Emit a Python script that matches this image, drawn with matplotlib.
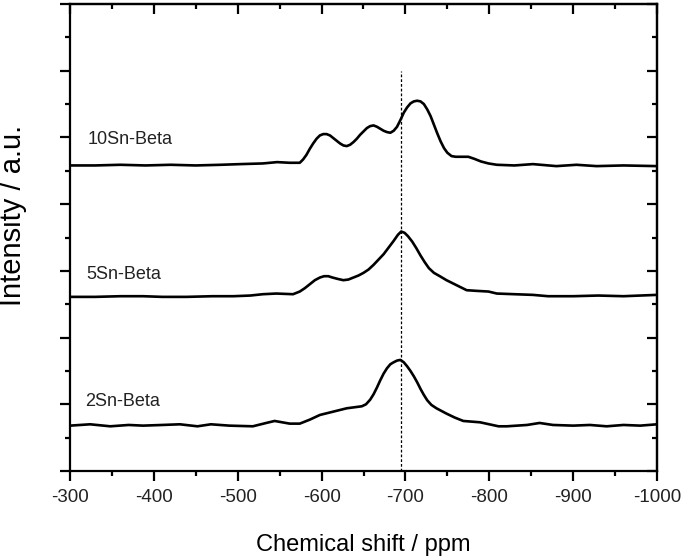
import matplotlib
matplotlib.use("Agg")
import matplotlib.pyplot as plt
from matplotlib.ticker import MultipleLocator

plt.rcParams["font.family"] = ["Liberation Sans", "DejaVu Sans"]
plt.rcParams["axes.unicode_minus"] = False

# chemical shift (ppm) / intensity (a.u., offset per sample)
ppm_10 = [-300, -330, -360, -390, -420, -450, -480, -503, -530, -547, -562,
          -574, -578, -582, -586, -590, -594, -598, -602, -606, -610, -614,
          -618, -622, -626, -630, -634, -638, -642, -646, -650, -654, -658,
          -662, -666, -670, -674, -678, -682, -686, -690, -694, -698, -702,
          -706, -710, -714, -718, -722, -726, -730, -734, -738, -742, -746,
          -750, -755, -760, -768, -775, -782, -790, -799,
          -809, -830, -852, -880, -904, -928, -960, -1000]
int_10 = [4.58, 4.58, 4.59, 4.58, 4.59, 4.58, 4.59, 4.60, 4.61, 4.63, 4.62,
          4.62, 4.67, 4.74, 4.83, 4.91, 4.98, 5.03, 5.05, 5.05, 5.03, 4.99,
          4.95, 4.91, 4.88, 4.87, 4.89, 4.93, 4.98, 5.04, 5.09, 5.14, 5.17,
          5.18, 5.16, 5.13, 5.10, 5.08, 5.07, 5.10, 5.16, 5.26, 5.37, 5.45,
          5.51, 5.54, 5.55, 5.54, 5.50, 5.42, 5.32, 5.19, 5.06, 4.94, 4.84,
          4.77, 4.72, 4.71, 4.71, 4.71, 4.68, 4.64, 4.61,
          4.59, 4.58, 4.60, 4.57, 4.59, 4.57, 4.58, 4.57]

ppm_5 = [-300, -330, -360, -387, -410, -439, -470, -495, -515, -530, -546,
         -566, -574, -580, -586, -592, -598, -603, -608, -613, -619, -626,
         -632, -638, -644, -650, -656, -662, -668, -674, -680, -686, -691,
         -695, -699, -703, -708, -713, -718, -723, -728, -734, -741, -749,
         -757, -765, -773, -785, -799, -809, -830, -852, -870, -900, -930,
         -960, -1000]
int_5 = [2.61, 2.61, 2.62, 2.62, 2.61, 2.61, 2.62, 2.62, 2.63, 2.65, 2.66,
         2.65, 2.69, 2.74, 2.80, 2.86, 2.90, 2.92, 2.92, 2.90, 2.88, 2.86,
         2.87, 2.90, 2.93, 2.97, 3.02, 3.09, 3.17, 3.25, 3.35, 3.45, 3.54,
         3.59, 3.57, 3.52, 3.44, 3.34, 3.23, 3.13, 3.04, 2.97, 2.92, 2.86,
         2.81, 2.76, 2.71, 2.70, 2.69, 2.66, 2.65, 2.64, 2.62, 2.62, 2.63,
         2.62, 2.64]

ppm_2 = [-300, -324, -348, -370, -387, -410, -431, -452, -468, -490, -518,
         -534, -544, -562, -574, -586, -598, -614, -630, -648, -653, -658,
         -662, -666, -670, -674, -678, -682, -686, -690, -694, -698, -702,
         -706, -710, -714, -718, -722, -726, -731, -737, -743, -749, -759,
         -769, -789, -811, -821, -845, -860, -876, -900, -920, -940, -960,
         -980, -1000]
int_2 = [0.68, 0.70, 0.67, 0.69, 0.68, 0.69, 0.70, 0.67, 0.70, 0.68, 0.67,
         0.72, 0.75, 0.71, 0.71, 0.77, 0.84, 0.89, 0.94, 0.97, 1.00, 1.07,
         1.15, 1.25, 1.36, 1.46, 1.54, 1.60, 1.63, 1.655, 1.665, 1.63, 1.57,
         1.50, 1.42, 1.33, 1.23, 1.14, 1.06, 0.99, 0.94, 0.90, 0.86, 0.80,
         0.75, 0.73, 0.67, 0.67, 0.69, 0.72, 0.69, 0.68, 0.69, 0.67, 0.69,
         0.68, 0.70]

names = ["10Sn-Beta", "5Sn-Beta", "2Sn-Beta"]
name_pos = [(-321, 4.97), (-320, 2.94), (-318, 1.04)]
ref_shift = -695

fig = plt.figure(figsize=(6.85, 5.56), dpi=100)
ax = fig.add_axes([70 / 685, 1 - 471 / 556, 587 / 685, 467 / 556])

for x, y in [(ppm_10, int_10), (ppm_5, int_5), (ppm_2, int_2)]:
    ax.plot(x, y, color="black", lw=1.9, solid_joinstyle="round")

ax.plot([ref_shift, ref_shift], [0, 6.0], color="black", lw=0.9,
        dashes=(2.2, 1.6))

for name, (x, y) in zip(names, name_pos):
    ax.text(x, y, name, fontsize=13, ha="left", va="center", color="#222222")

ax.set_xlim(-300, -1000)
ax.set_ylim(0, 7)
ax.xaxis.set_major_locator(MultipleLocator(100))
ax.xaxis.set_minor_locator(MultipleLocator(50))
ax.yaxis.set_major_locator(MultipleLocator(1))
ax.yaxis.set_minor_locator(MultipleLocator(0.5))
ax.set_yticklabels([])
ax.set_yticklabels([], minor=True)

for side in ax.spines.values():
    side.set_linewidth(1.6)

ax.tick_params(which="both", direction="out", top=False, right=False,
               width=1.6, labelsize=13.5, labelcolor="#222222", pad=6)
ax.tick_params(which="major", length=7)
ax.tick_params(which="minor", length=3.5)

# inward mirrored ticks on top and right
for axis_obj, pos in [(ax.secondary_xaxis("top"), "x"), (ax.secondary_yaxis("right"), "y")]:
    axis_obj.spines[:].set_linewidth(1.6)
    if pos == "x":
        axis_obj.xaxis.set_major_locator(MultipleLocator(100))
        axis_obj.xaxis.set_minor_locator(MultipleLocator(50))
        axis_obj.set_xticklabels([])
    else:
        axis_obj.yaxis.set_major_locator(MultipleLocator(1))
        axis_obj.yaxis.set_minor_locator(MultipleLocator(0.5))
        axis_obj.set_yticklabels([])
    axis_obj.tick_params(which="both", direction="in", width=1.6)
    axis_obj.tick_params(which="major", length=7)
    axis_obj.tick_params(which="minor", length=3.5)

ax.set_xlabel("Chemical shift / ppm", fontsize=17, labelpad=20)
fig.text(13 / 685, 1 - 215 / 556, "Intensity / a.u.", rotation=90,
         fontsize=21, ha="center", va="center")

fig.savefig("out.png", dpi=100)
